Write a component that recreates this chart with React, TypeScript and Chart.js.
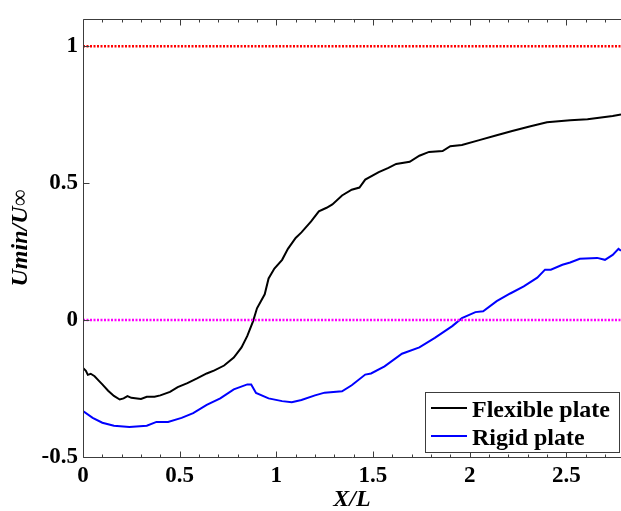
import React, { useEffect, useRef } from "react";
import { Chart, registerables } from "chart.js";

Chart.register(...registerables);

// ---- data ----
const flexX = [0, 0.015, 0.025, 0.04, 0.06, 0.08, 0.1, 0.13, 0.16, 0.19, 0.21, 0.23, 0.25, 0.28, 0.3, 0.33, 0.37, 0.4, 0.45, 0.49, 0.54, 0.59, 0.64, 0.68, 0.73, 0.78, 0.82, 0.85, 0.88, 0.9, 0.94, 0.96, 0.99, 1.03, 1.06, 1.1, 1.13, 1.18, 1.22, 1.26, 1.29, 1.34, 1.39, 1.43, 1.46, 1.53, 1.58, 1.62, 1.69, 1.74, 1.79, 1.86, 1.9, 1.96, 2.05, 2.14, 2.22, 2.31, 2.4, 2.52, 2.61, 2.68, 2.74, 2.783];
const flexY = [-0.175, -0.185, -0.2, -0.196, -0.205, -0.22, -0.235, -0.258, -0.277, -0.29, -0.286, -0.278, -0.284, -0.286, -0.288, -0.28, -0.28, -0.275, -0.262, -0.245, -0.23, -0.213, -0.195, -0.184, -0.166, -0.137, -0.1, -0.058, -0.004, 0.043, 0.094, 0.152, 0.188, 0.22, 0.26, 0.3, 0.32, 0.36, 0.397, 0.41, 0.422, 0.455, 0.476, 0.484, 0.513, 0.54, 0.556, 0.57, 0.578, 0.6, 0.614, 0.617, 0.635, 0.639, 0.657, 0.675, 0.69, 0.707, 0.722, 0.73, 0.733, 0.74, 0.745, 0.751];

const rigidX = [0, 0.05, 0.1, 0.16, 0.24, 0.33, 0.38, 0.44, 0.51, 0.57, 0.64, 0.71, 0.78, 0.85, 0.87, 0.895, 0.96, 1.03, 1.08, 1.13, 1.2, 1.25, 1.34, 1.39, 1.46, 1.49, 1.56, 1.65, 1.74, 1.82, 1.91, 1.96, 2.03, 2.07, 2.14, 2.21, 2.28, 2.35, 2.39, 2.42, 2.48, 2.52, 2.57, 2.66, 2.7, 2.74, 2.77, 2.783];
const rigidY = [-0.332, -0.357, -0.375, -0.386, -0.39, -0.386, -0.372, -0.372, -0.357, -0.34, -0.31, -0.286, -0.253, -0.235, -0.235, -0.266, -0.286, -0.296, -0.3, -0.292, -0.275, -0.265, -0.26, -0.238, -0.199, -0.195, -0.169, -0.123, -0.1, -0.065, -0.022, 0.007, 0.029, 0.032, 0.069, 0.097, 0.123, 0.155, 0.184, 0.184, 0.202, 0.21, 0.224, 0.227, 0.22, 0.238, 0.26, 0.253];

const seriesLabels = ["Flexible plate", "Rigid plate"];
const refLevels = [1, 0];
const xTicks = [0, 0.5, 1, 1.5, 2, 2.5];
const yTicks = [-0.5, 0, 0.5, 1];
const xTitle = "X/L";
const yTitle = "Umin/U\u221E";
const X_MIN = 0;
const X_MAX = 2.783;
const Y_MIN = -0.5;
const Y_MAX = 1.1;
const MINOR_STEP = 0.1;

const FONT = "'Liberation Serif', 'Times New Roman', serif";
const AXIS_COLOR = "#3c3c3c";

const toPoints = (xs: number[], ys: number[]) => xs.map((x, i) => ({ x, y: ys[i] }));

const framePlugin = {
  id: "frame",
  afterDatasetsDraw(chart: any) {
    const { ctx, chartArea: a, scales } = chart;
    const x = scales.x;
    const y = scales.y;
    ctx.save();
    ctx.strokeStyle = AXIS_COLOR;
    ctx.lineWidth = 1;
    const L = Math.round(a.left) + 0.5;
    const B = Math.round(a.bottom) + 0.5;
    const T = Math.round(a.top) + 0.5;
    const R = a.right + 2;
    ctx.beginPath();
    ctx.moveTo(L, T);
    ctx.lineTo(L, B);
    ctx.moveTo(L, B);
    ctx.lineTo(R, B);
    ctx.moveTo(L, T);
    ctx.lineTo(R, T);
    for (let i = 0; i * MINOR_STEP <= X_MAX + 1e-9; i++) {
      const v = i * MINOR_STEP;
      const major = Math.abs(v / 0.5 - Math.round(v / 0.5)) < 1e-6;
      const len = major ? 6 : 3;
      const px = Math.round(x.getPixelForValue(v)) + 0.5;
      ctx.moveTo(px, B);
      ctx.lineTo(px, B - len);
      ctx.moveTo(px, T);
      ctx.lineTo(px, T + len);
    }
    yTicks.forEach((v) => {
      const py = Math.round(y.getPixelForValue(v)) + 0.5;
      ctx.moveTo(L, py);
      ctx.lineTo(L + 6, py);
    });
    ctx.stroke();
    ctx.restore();
  },
};

const legendPlugin = {
  id: "boxLegend",
  afterDraw(chart: any) {
    const { ctx, chartArea: a } = chart;
    const items = chart.data.datasets.filter((d: any) => d.showInLegend);
    ctx.save();
    ctx.font = `bold 24px ${FONT}`;
    let tw = 0;
    items.forEach((d: any) => {
      tw = Math.max(tw, ctx.measureText(d.label).width);
    });
    const lineLen = 36;
    const padL = 6;
    const gap = 5;
    const padR = 9;
    const rowH = 28;
    const boxW = padL + lineLen + gap + tw + padR;
    const boxH = 60;
    const right = Math.round(a.right) - 2;
    const bottom = Math.round(a.bottom) - 5;
    const left = Math.round(right - boxW);
    const top = bottom - boxH;
    ctx.fillStyle = "#ffffff";
    ctx.fillRect(left, top, right - left, boxH);
    ctx.strokeStyle = AXIS_COLOR;
    ctx.lineWidth = 1;
    ctx.strokeRect(left + 0.5, top + 0.5, right - left, boxH);
    items.forEach((d: any, i: number) => {
      const ly = top + 16 + i * rowH;
      ctx.strokeStyle = d.borderColor;
      ctx.lineWidth = 2;
      ctx.beginPath();
      ctx.moveTo(left + padL, ly);
      ctx.lineTo(left + padL + lineLen, ly);
      ctx.stroke();
      ctx.fillStyle = "#000000";
      ctx.textBaseline = "alphabetic";
      ctx.textAlign = "left";
      ctx.fillText(d.label, left + padL + lineLen + gap, top + 25 + i * rowH);
    });
    ctx.restore();
  },
};

export default function App() {
  const canvasRef = useRef<HTMLCanvasElement | null>(null);

  useEffect(() => {
    if (!canvasRef.current) return;
    const refColors = ["#ff0000", "#ff00ff"];
    const chart = new Chart(canvasRef.current, {
      type: "line",
      data: {
        datasets: [
          ...refLevels.map((lv, i) => ({
            data: [
              { x: X_MIN, y: lv },
              { x: X_MAX, y: lv },
            ],
            borderColor: refColors[i],
            borderWidth: 2.5,
            borderDash: [2, 1.5],
            pointRadius: 0,
            showInLegend: false,
          })),
          {
            label: seriesLabels[0],
            data: toPoints(flexX, flexY),
            borderColor: "#000000",
            borderWidth: 2,
            pointRadius: 0,
            tension: 0,
            showInLegend: true,
          },
          {
            label: seriesLabels[1],
            data: toPoints(rigidX, rigidY),
            borderColor: "#0000ff",
            borderWidth: 2,
            pointRadius: 0,
            tension: 0,
            showInLegend: true,
          },
        ] as any,
      },
      options: {
        animation: false,
        responsive: false,
        devicePixelRatio: 1,
        layout: { padding: { top: 14, right: 0, left: 0, bottom: 0 } },
        plugins: {
          legend: { display: false },
          tooltip: { enabled: false },
        },
        scales: {
          x: {
            type: "linear",
            min: X_MIN,
            max: X_MAX,
            grid: { display: false, drawTicks: false },
            border: { display: false },
            afterBuildTicks: (s: any) => {
              s.ticks = xTicks.map((v) => ({ value: v }));
            },
            afterFit: (s: any) => {
              s.height = 54;
            },
            ticks: {
              color: "#000000",
              padding: 5,
              maxRotation: 0,
              autoSkip: false,
              font: { family: FONT, size: 23, weight: "bold" },
              callback: (v: any) => String(v),
            },
            title: {
              display: true,
              text: xTitle,
              color: "#000000",
              padding: 0,
              font: { family: FONT, size: 24, weight: "bold", style: "italic", lineHeight: 0.9 },
            },
          },
          y: {
            type: "linear",
            min: Y_MIN,
            max: Y_MAX,
            grid: { display: false, drawTicks: false },
            border: { display: false },
            afterBuildTicks: (s: any) => {
              s.ticks = yTicks.map((v) => ({ value: v }));
            },
            afterFit: (s: any) => {
              s.width = 83;
            },
            ticks: {
              color: "#000000",
              padding: 5,
              autoSkip: false,
              font: { family: FONT, size: 23, weight: "bold" },
              callback: (v: any) => String(v),
            },
            title: {
              display: true,
              text: yTitle,
              color: "#000000",
              padding: { top: 10, bottom: 0 },
              font: { family: FONT, size: 24, weight: "bold", style: "italic", lineHeight: 0.9 },
            },
          },
        },
      } as any,
      plugins: [framePlugin, legendPlugin],
    });
    return () => chart.destroy();
  }, []);

  return (
    <div
      style={{
        position: "fixed",
        left: 0,
        top: 0,
        width: 621,
        height: 511,
        overflow: "hidden",
        background: "#ffffff",
      }}
    >
      <canvas ref={canvasRef} width={621} height={511} style={{ display: "block", width: 621, height: 511 }} />
    </div>
  );
}
